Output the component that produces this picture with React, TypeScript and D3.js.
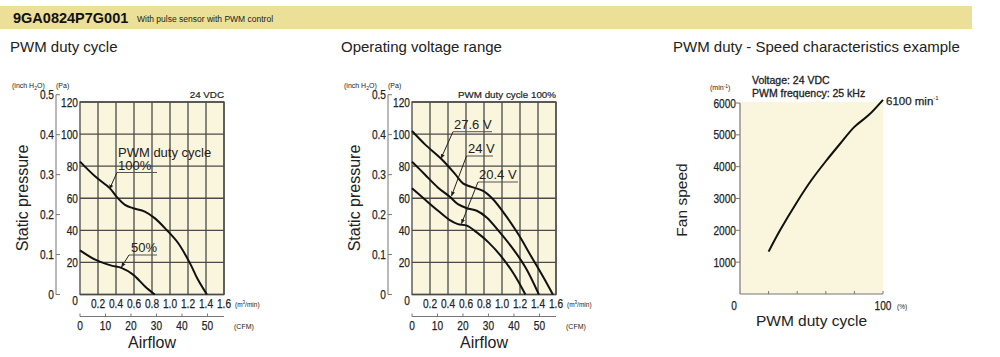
import React from "react";
import * as d3 from "d3";

// ---------- data ----------
const paTicks = [0, 20, 40, 60, 80, 100, 120];
const inchTicks = [0, 0.1, 0.2, 0.3, 0.4, 0.5];
const m3Ticks = [0.2, 0.4, 0.6, 0.8, 1.0, 1.2, 1.4, 1.6];
const cfmTicks = [0, 10, 20, 30, 40, 50];

// Chart 1: PWM duty cycle (m3/min, Pa)
const duty100: [number, number][] = [
  [0, 82.8], [0.17, 73.5], [0.33, 66.3], [0.41, 60.7], [0.5, 55.9], [0.59, 53.8],
  [0.72, 51.7], [0.83, 47.6], [0.96, 40.4], [1.09, 32.1], [1.22, 19.7], [1.31, 9.3], [1.41, 0],
];
const duty50: [number, number][] = [
  [0, 27.5], [0.17, 21.7], [0.35, 18], [0.46, 16.6], [0.59, 12.4], [0.72, 5.2], [0.83, 0],
];

// Chart 2: Operating voltage range
const v276: [number, number][] = [
  [0, 101.9], [0.144, 93.6], [0.33, 84.3], [0.48, 75], [0.57, 69.1], [0.66, 67.1],
  [0.79, 64.6], [0.9, 59.4], [1.03, 50.1], [1.18, 37.7], [1.33, 23.2], [1.46, 10.7], [1.565, 0],
];
const v24: [number, number][] = [
  [0, 82.8], [0.14, 75], [0.29, 66.6], [0.42, 60.9], [0.51, 56.3], [0.61, 53.8],
  [0.72, 52.2], [0.83, 48], [0.96, 39.8], [1.11, 29.4], [1.26, 17], [1.41, 0],
];
const v204: [number, number][] = [
  [0, 66.3], [0.14, 59.4], [0.29, 52.2], [0.42, 46.4], [0.51, 43.9], [0.61, 42.9],
  [0.72, 38.7], [0.85, 32.5], [1.0, 23.2], [1.13, 12.9], [1.26, 0],
];

// Chart 3: PWM duty (%) vs speed (min-1)
const speedTicks = [1000, 2000, 3000, 4000, 5000, 6000];
const dutyTicks = [20, 40, 60, 80, 100];
const speedCurve: [number, number][] = [
  [20, 1330], [28, 2000], [40, 2900], [50, 3580], [60, 4170], [70, 4720], [80, 5250], [90, 5620], [100, 6100],
];

const PA_PER_INCH = 249.09;
const CFM_PER_M3 = 35.31;

// ---------- styles ----------
const FONT = "'Liberation Sans', Arial, sans-serif";
const TXT = "#222";
const GRID = "#4a4a4a";
const BG = "#faf5dd";

// condensed numeric text (reference uses a condensed face)
function NText({ x, y, children, size = 13, anchor = "middle" }: { x: number; y: number; children: string; size?: number; anchor?: string }) {
  const s = String(children);
  let wEm = 0;
  for (const ch of s) wEm += ch === "." ? 0.278 : 0.556;
  const len = wEm * size * 0.78;
  return (
    <text x={x} y={y} fontSize={size} fill={TXT} fontFamily={FONT} textAnchor={anchor}
      textLength={len} lengthAdjust="spacingAndGlyphs" stroke={TXT} strokeWidth={0.25}>{s}</text>
  );
}

type Label = { text: string; tx: number; ty: number; ulx1: number; ulx2: number; uly: number; px: number; py: number };

function PQChart({ x0, curves, labels, note }: {
  x0: number; curves: [number, number][][]; labels: Label[]; note: string;
}) {
  const top = 102, bottom = 294.5, w = 144;
  const x = d3.scaleLinear().domain([0, 1.6]).range([x0, x0 + w]);
  const y = d3.scaleLinear().domain([0, 120]).range([bottom, top]);
  const xc = d3.scaleLinear().domain([0, 1.6 * CFM_PER_M3]).range([x0, x0 + w]);
  const line = d3.line<[number, number]>().x(d => x(d[0])).y(d => y(d[1])).curve(d3.curveCatmullRom.alpha(0.5));
  const ax = x0 - 24;
  const cfmY = bottom + 22;
  return (
    <g>
      <text x={x0 - 68} y={88} fontSize={7} fill={TXT} fontFamily={FONT}>(inch H<tspan fontSize={5} dy={1.5}>2</tspan><tspan dy={-1.5}>O)</tspan></text>
      <text x={x0 - 24} y={88} fontSize={7} fill={TXT} fontFamily={FONT}>(Pa)</text>
      <text x={x0 + w} y={98} fontSize={9.8} fill={TXT} fontFamily={FONT} textAnchor="end" stroke={TXT} strokeWidth={0.2}>{note}</text>
      <rect x={x0} y={top} width={w} height={bottom - top} fill={BG} />
      {m3Ticks.map(t => (
        <line key={"vx" + t} x1={x(t)} x2={x(t)} y1={top} y2={bottom} stroke={GRID} strokeWidth={1.3} />
      ))}
      {paTicks.map(t => (
        <line key={"hy" + t} x1={x0} x2={x0 + w} y1={y(t)} y2={y(t)} stroke={GRID} strokeWidth={1.3} />
      ))}
      <rect x={x0} y={top} width={w} height={bottom - top} fill="none" stroke={GRID} strokeWidth={1.3} />
      {/* inch axis */}
      <line x1={ax} x2={ax} y1={y(0)} y2={y(0.5 * PA_PER_INCH)} stroke="#777" strokeWidth={1} />
      {inchTicks.map(t => (
        <g key={"in" + t}>
          <line x1={ax} x2={ax + 4} y1={y(t * PA_PER_INCH)} y2={y(t * PA_PER_INCH)} stroke="#777" strokeWidth={1} />
          <NText x={ax - 2} y={y(t * PA_PER_INCH) + 4.5} anchor="end">{t === 0 ? "0" : t.toFixed(1)}</NText>
        </g>
      ))}
      {/* Pa labels */}
      {paTicks.map(t => (
        <NText key={"pa" + t} x={x0 - 2} y={y(t) + 4.5 + (t === 0 ? 6 : 0)} anchor="end">{String(t)}</NText>
      ))}
      {m3Ticks.map(t => (
        <NText key={"m3" + t} x={x(t)} y={bottom + 13} size={13}>{t.toFixed(1)}</NText>
      ))}
      <text x={x0 + w + 11} y={bottom + 12} fontSize={6.5} fill={TXT} fontFamily={FONT}>(m<tspan fontSize={4.5} dy={-2.5}>3</tspan><tspan dy={2.5}>/min)</tspan></text>
      {/* CFM axis */}
      <line x1={x0} x2={x0 + w} y1={cfmY} y2={cfmY} stroke="#777" strokeWidth={1} />
      {cfmTicks.map(t => (
        <g key={"cfm" + t}>
          <line x1={xc(t)} x2={xc(t)} y1={cfmY} y2={cfmY - 3} stroke="#777" strokeWidth={1} />
          <NText x={xc(t)} y={cfmY + 13}>{String(t)}</NText>
        </g>
      ))}
      <text x={x0 + w + 10} y={cfmY + 12} fontSize={7} fill={TXT} fontFamily={FONT}>(CFM)</text>
      <text x={x0 + w / 2} y={348} fontSize={16} fill={TXT} fontFamily={FONT} textAnchor="middle">Airflow</text>
      <text transform={`translate(${x0 - 52},198) rotate(-90)`} fontSize={16} fill={TXT} fontFamily={FONT} textAnchor="middle">Static pressure</text>
      {/* curves */}
      {curves.map((c, i) => (
        <path key={"c" + i} d={line(c) || ""} fill="none" stroke="#111" strokeWidth={2} />
      ))}
      {labels.map((l, i) => (
        <g key={"lb" + i}>
          <text x={l.tx} y={l.ty} fontSize={13} fill={TXT} fontFamily={FONT}>{l.text}</text>
          <line x1={l.ulx1} x2={l.ulx2} y1={l.uly} y2={l.uly} stroke="#555" strokeWidth={1} />
          <line x1={l.ulx1} y1={l.uly} x2={l.px} y2={l.py} stroke="#222" strokeWidth={1} markerEnd="url(#arr)" />
        </g>
      ))}
    </g>
  );
}

function SpeedChart() {
  const x0 = 740, w = 143, top = 102, bottom = 294;
  const x = d3.scaleLinear().domain([0, 100]).range([x0, x0 + w]);
  const y = d3.scaleLinear().domain([0, 6000]).range([bottom, top + 1]);
  const line = d3.line<[number, number]>().x(d => x(d[0])).y(d => y(d[1])).curve(d3.curveCatmullRom.alpha(0.5));
  const last = speedCurve[speedCurve.length - 1];
  return (
    <g>
      <rect x={x0} y={top} width={w} height={bottom - top} fill={BG} />
      <line x1={x0} x2={x0} y1={bottom} y2={y(6000)} stroke="#777" strokeWidth={1.2} />
      <line x1={x0} x2={x0 + w} y1={bottom} y2={bottom} stroke="#777" strokeWidth={1.2} />
      {speedTicks.map(t => (
        <g key={"s" + t}>
          <line x1={x0 - 4} x2={x0} y1={y(t)} y2={y(t)} stroke="#777" strokeWidth={1} />
          <NText x={x0 - 4} y={y(t) + 4.5} anchor="end">{String(t)}</NText>
        </g>
      ))}
      {dutyTicks.map(t => (
        <line key={"d" + t} x1={x(t)} x2={x(t)} y1={bottom} y2={bottom - 3} stroke="#777" strokeWidth={1} />
      ))}
      <NText x={x(0) - 6} y={bottom + 16}>0</NText>
      <NText x={x(100)} y={bottom + 16}>100</NText>
      <text x={x(100) + 14} y={bottom + 15} fontSize={6.5} fill={TXT} fontFamily={FONT}>(%)</text>
      <text x={710} y={90} fontSize={7} fill={TXT} fontFamily={FONT}>(min<tspan fontSize={5} dy={-2.5}>-1</tspan><tspan dy={2.5}>)</tspan></text>
      <text x={752} y={84} fontSize={10.5} fill={TXT} fontFamily={FONT} stroke={TXT} strokeWidth={0.3}>Voltage: 24 VDC</text>
      <text x={752} y={97} fontSize={10.5} fill={TXT} fontFamily={FONT} stroke={TXT} strokeWidth={0.3}>PWM frequency: 25 kHz</text>
      <path d={line(speedCurve) || ""} fill="none" stroke="#111" strokeWidth={2} />
      <text x={x(last[0]) + 3} y={y(last[1]) + 5} fontSize={11.5} fill={TXT} fontFamily={FONT} stroke={TXT} strokeWidth={0.25}>
        6100 min<tspan fontSize={6} dy={-5} strokeWidth={0}>-1</tspan>
      </text>
      <text x={x0 + w / 2} y={326} fontSize={15.5} fill={TXT} fontFamily={FONT} textAnchor="middle">PWM duty cycle</text>
      <text transform={`translate(687,200) rotate(-90)`} fontSize={15.5} fill={TXT} fontFamily={FONT} textAnchor="middle">Fan speed</text>
    </g>
  );
}

export default function App() {
  const labels1: Label[] = [
    { text: "100%", tx: 118, ty: 170, ulx1: 117, ulx2: 157, uly: 172.5, px: 109.5, py: 189 },
    { text: "50%", tx: 131, ty: 252, ulx1: 129, ulx2: 157, uly: 255, px: 121.5, py: 267 },
  ];
  const labels2: Label[] = [
    { text: "27.6 V", tx: 454, ty: 129, ulx1: 453, ulx2: 492, uly: 131.7, px: 441, py: 158.5 },
    { text: "24 V", tx: 468, ty: 153, ulx1: 466.5, ulx2: 493, uly: 156, px: 451.5, py: 196 },
    { text: "20.4 V", tx: 479, ty: 179, ulx1: 478, ulx2: 518, uly: 182, px: 461.5, py: 223.5 },
  ];
  return (
    <svg width={1000} height={357} style={{ position: "absolute", left: 0, top: 0, background: "#fff" }}>
      <defs>
        <marker id="arr" viewBox="0 0 10 10" refX={9} refY={5} markerWidth={5} markerHeight={5} orient="auto">
          <path d="M0,1 L10,5 L0,9 z" fill="#222" />
        </marker>
      </defs>
      <rect x={0} y={6} width={972} height={23} fill="#ecdf97" />
      <text x={13} y={23} fontSize={14.5} fontWeight="bold" fill="#111" fontFamily={FONT}>9GA0824P7G001</text>
      <text x={137} y={22} fontSize={8.5} fill="#222" fontFamily={FONT}>With pulse sensor with PWM control</text>
      <text x={10} y={52} fontSize={15} fill="#222" fontFamily={FONT}>PWM duty cycle</text>
      <text x={341} y={52} fontSize={15} fill="#222" fontFamily={FONT}>Operating voltage range</text>
      <text x={673} y={52} fontSize={15} fill="#222" fontFamily={FONT}>PWM duty - Speed characteristics example</text>
      <PQChart x0={80} curves={[duty100, duty50]} labels={labels1} note="24 VDC" />
      <text x={118} y={157} fontSize={13} fill={TXT} fontFamily={FONT}>PWM duty cycle</text>
      <PQChart x0={412} curves={[v276, v24, v204]} labels={labels2} note="PWM duty cycle 100%" />
      <SpeedChart />
    </svg>
  );
}
